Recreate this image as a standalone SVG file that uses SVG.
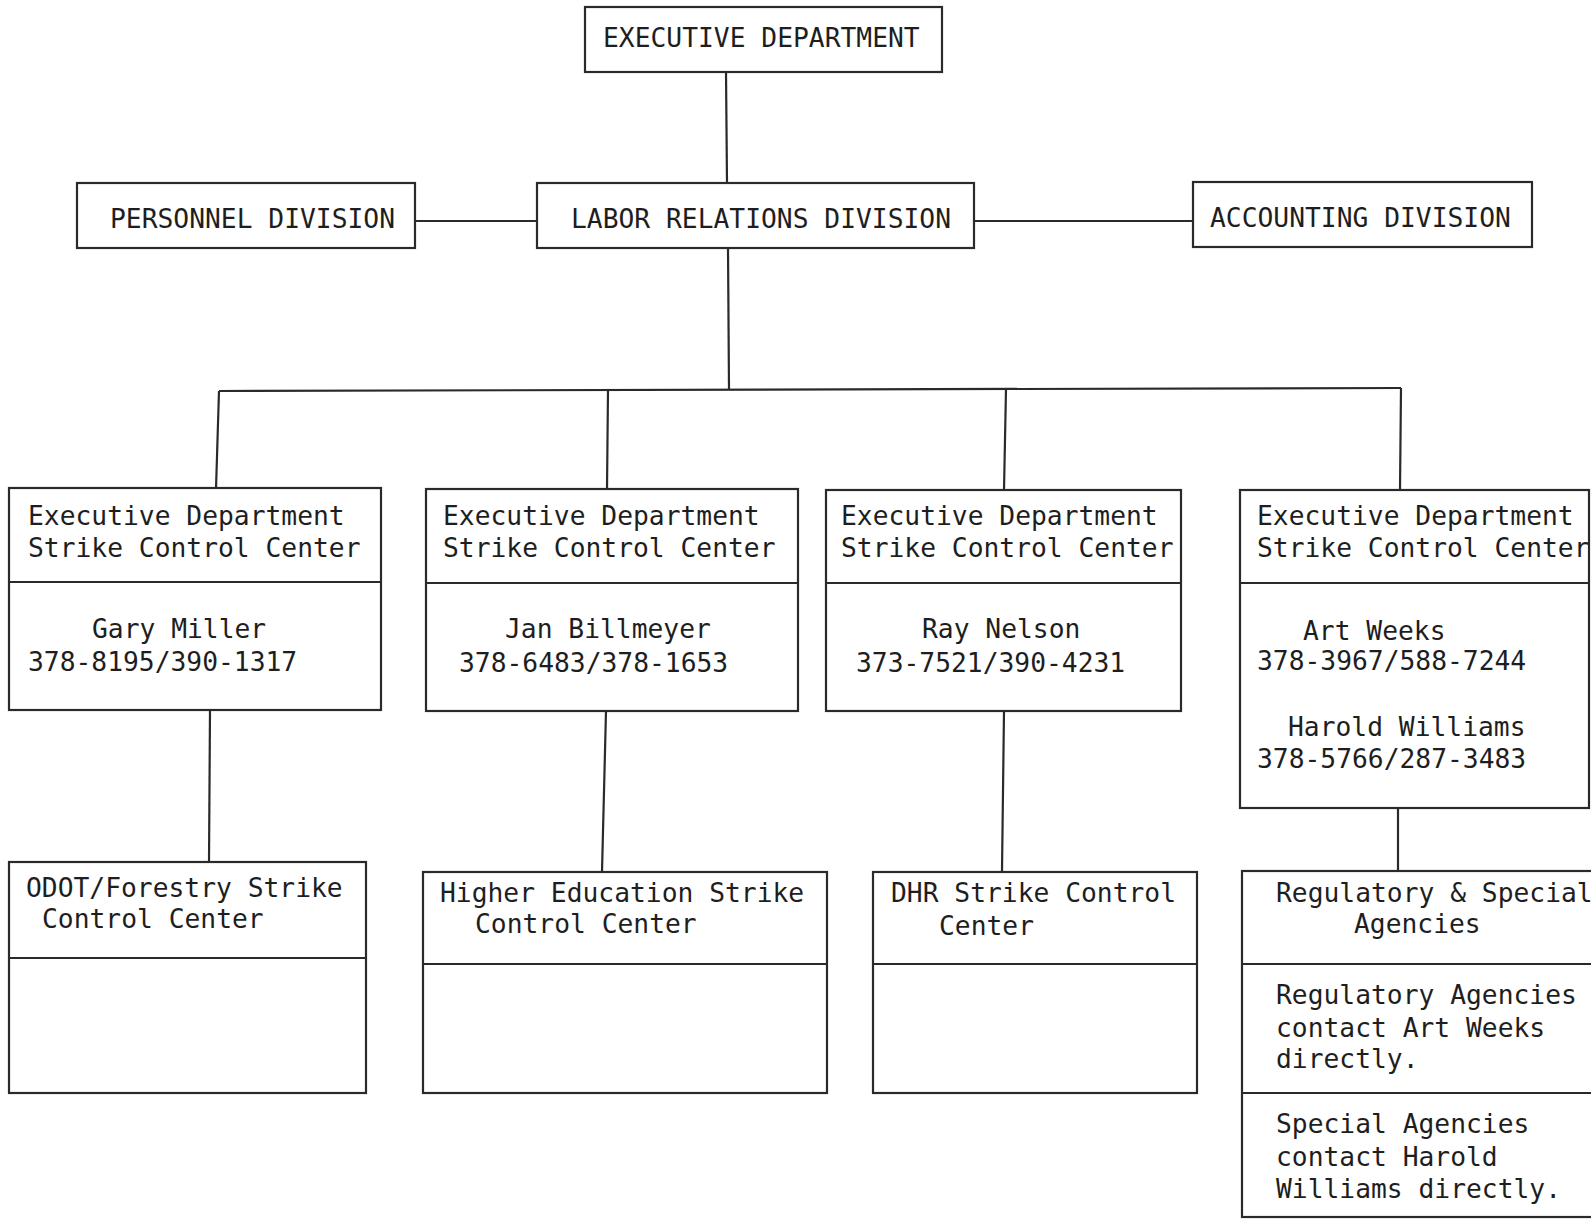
<svg xmlns="http://www.w3.org/2000/svg" width="1591" height="1221" viewBox="0 0 1591 1221">
<style>
  .box { fill: none; stroke: #2a2a2a; stroke-width: 2.2; }
  .div { stroke: #2a2a2a; stroke-width: 2.2; }
  .conn { stroke: #2a2a2a; stroke-width: 2.2; fill: none; }
  text { font-family: "DejaVu Sans Mono", "Liberation Mono", monospace; font-size: 26.3px; fill: #1e1e1e; }
</style>
<rect x="0" y="0" width="1591" height="1221" fill="#ffffff"/>
<g id="connectors">
  <line class="conn" x1="726" y1="72" x2="727" y2="183"/>
  <line class="conn" x1="415" y1="221" x2="537" y2="221"/>
  <line class="conn" x1="974" y1="221" x2="1193" y2="221"/>
  <line class="conn" x1="728" y1="248" x2="729" y2="390"/>
  <line class="conn" x1="219" y1="391" x2="1401" y2="388"/>
  <line class="conn" x1="219" y1="391" x2="216" y2="489"/>
  <line class="conn" x1="608" y1="390" x2="607" y2="489"/>
  <line class="conn" x1="1006" y1="389" x2="1004" y2="490"/>
  <line class="conn" x1="1401" y1="388" x2="1400" y2="490"/>
  <line class="conn" x1="210" y1="710" x2="209" y2="862"/>
  <line class="conn" x1="606" y1="711" x2="602" y2="872"/>
  <line class="conn" x1="1004" y1="711" x2="1002" y2="872"/>
  <line class="conn" x1="1398" y1="808" x2="1398" y2="871"/>
</g>
<g id="executive-department">
  <rect class="box" x="585" y="7" width="357" height="65"/>
  <text x="603" y="47">EXECUTIVE DEPARTMENT</text>
</g>
<g id="personnel-division">
  <rect class="box" x="77" y="183" width="338" height="65"/>
  <text x="110" y="228">PERSONNEL DIVISION</text>
</g>
<g id="labor-relations-division">
  <rect class="box" x="537" y="183" width="437" height="65"/>
  <text x="571" y="228">LABOR RELATIONS DIVISION</text>
</g>
<g id="accounting-division">
  <rect class="box" x="1193" y="182" width="339" height="65"/>
  <text x="1210" y="227">ACCOUNTING DIVISION</text>
</g>
<g id="sc-gary-miller">
  <rect class="box" x="9" y="488" width="372" height="222"/>
  <line class="div" x1="9" y1="582" x2="381" y2="582"/>
  <text x="28" y="525">Executive Department</text>
  <text x="28" y="557">Strike Control Center</text>
  <text x="92" y="638">Gary Miller</text>
  <text x="28" y="671">378-8195/390-1317</text>
</g>
<g id="sc-jan-billmeyer">
  <rect class="box" x="426" y="489" width="372" height="222"/>
  <line class="div" x1="426" y1="583" x2="798" y2="583"/>
  <text x="443" y="525">Executive Department</text>
  <text x="443" y="557">Strike Control Center</text>
  <text x="505" y="638">Jan Billmeyer</text>
  <text x="459" y="672">378-6483/378-1653</text>
</g>
<g id="sc-ray-nelson">
  <rect class="box" x="826" y="490" width="355" height="221"/>
  <line class="div" x1="826" y1="583" x2="1181" y2="583"/>
  <text x="841" y="525">Executive Department</text>
  <text x="841" y="557">Strike Control Center</text>
  <text x="922" y="638">Ray Nelson</text>
  <text x="856" y="672">373-7521/390-4231</text>
</g>
<g id="sc-art-weeks-harold-williams">
  <rect class="box" x="1240" y="490" width="349" height="318"/>
  <line class="div" x1="1240" y1="583" x2="1589" y2="583"/>
  <text x="1257" y="525">Executive Department</text>
  <text x="1257" y="557">Strike Control Center</text>
  <text x="1303" y="640">Art Weeks</text>
  <text x="1257" y="670">378-3967/588-7244</text>
  <text x="1288" y="736">Harold Williams</text>
  <text x="1257" y="768">378-5766/287-3483</text>
</g>
<g id="odot-forestry">
  <rect class="box" x="9" y="862" width="357" height="231"/>
  <line class="div" x1="9" y1="958" x2="366" y2="958"/>
  <text x="26" y="897">ODOT/Forestry Strike</text>
  <text x="42" y="928">Control Center</text>
</g>
<g id="higher-education">
  <rect class="box" x="423" y="872" width="404" height="221"/>
  <line class="div" x1="423" y1="964" x2="827" y2="964"/>
  <text x="440" y="902">Higher Education Strike</text>
  <text x="475" y="933">Control Center</text>
</g>
<g id="dhr">
  <rect class="box" x="873" y="872" width="324" height="221"/>
  <line class="div" x1="873" y1="964" x2="1197" y2="964"/>
  <text x="891" y="902">DHR Strike Control</text>
  <text x="939" y="935">Center</text>
</g>
<g id="regulatory-special">
  <rect class="box" x="1242" y="871" width="354" height="346"/>
  <line class="div" x1="1242" y1="964" x2="1596" y2="964"/>
  <line class="div" x1="1242" y1="1093" x2="1596" y2="1093"/>
  <text x="1276" y="902">Regulatory &amp; Special</text>
  <text x="1354" y="933">Agencies</text>
  <text x="1276" y="1004">Regulatory Agencies</text>
  <text x="1276" y="1037">contact Art Weeks</text>
  <text x="1276" y="1068">directly.</text>
  <text x="1276" y="1133">Special Agencies</text>
  <text x="1276" y="1166">contact Harold</text>
  <text x="1276" y="1198">Williams directly.</text>
</g>
</svg>
